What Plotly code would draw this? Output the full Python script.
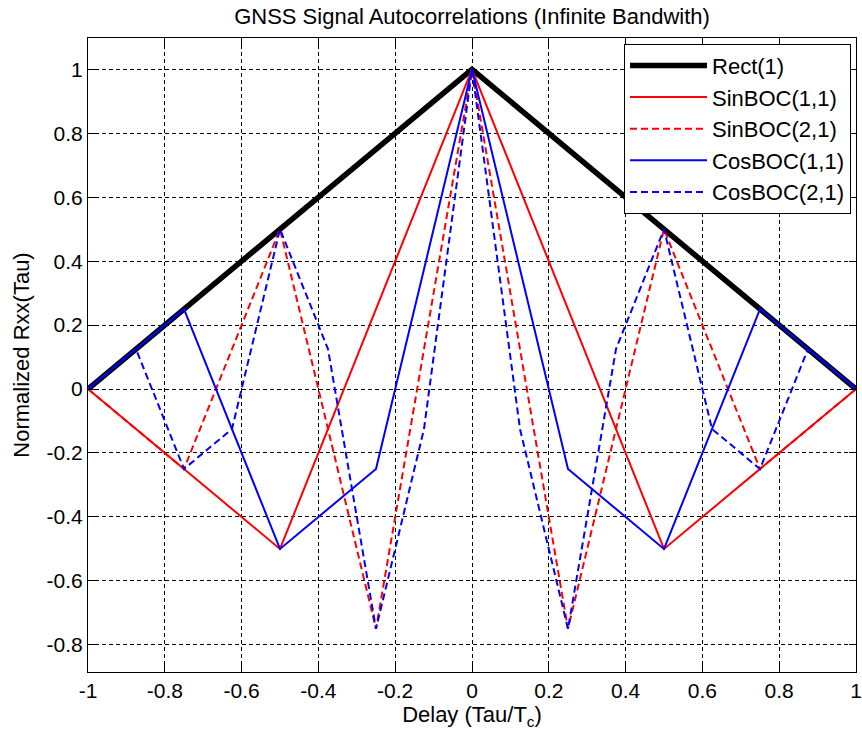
import plotly.graph_objects as go

# ---- data ----
tau_rect = [-1.0, 0.0, 1.0]
rect_1 = [0.0, 1.0, 0.0]

tau_half = [-1.0, -0.5, 0.0, 0.5, 1.0]
sinboc_11 = [0.0, -0.5, 1.0, -0.5, 0.0]

tau_quarter = [-1.0, -0.75, -0.5, -0.25, 0.0, 0.25, 0.5, 0.75, 1.0]
sinboc_21 = [0.0, -0.25, 0.5, -0.75, 1.0, -0.75, 0.5, -0.25, 0.0]
cosboc_11 = [0.0, 0.25, -0.5, -0.25, 1.0, -0.25, -0.5, 0.25, 0.0]

tau_eighth = [-1.0, -0.875, -0.75, -0.625, -0.5, -0.375, -0.25, -0.125, 0.0,
              0.125, 0.25, 0.375, 0.5, 0.625, 0.75, 0.875, 1.0]
cosboc_21 = [0.0, 0.125, -0.25, -0.125, 0.5, 0.125, -0.75, -0.125, 1.0,
             -0.125, -0.75, 0.125, 0.5, -0.125, -0.25, 0.125, 0.0]

x_tickvals = [-1, -0.8, -0.6, -0.4, -0.2, 0, 0.2, 0.4, 0.6, 0.8, 1]
x_ticktext = ["-1", "-0.8", "-0.6", "-0.4", "-0.2", "0", "0.2", "0.4", "0.6", "0.8", "1"]
y_tickvals = [-0.8, -0.6, -0.4, -0.2, 0, 0.2, 0.4, 0.6, 0.8, 1]
y_ticktext = ["-0.8", "-0.6", "-0.4", "-0.2", "0", "0.2", "0.4", "0.6", "0.8", "1"]

FONT = "Liberation Sans, Arial, Helvetica, sans-serif"

fig = go.Figure()
fig.add_trace(go.Scatter(x=tau_rect, y=rect_1, mode="lines", name="Rect(1)",
                         line=dict(color="black", width=5.5)))
fig.add_trace(go.Scatter(x=tau_half, y=sinboc_11, mode="lines", name="SinBOC(1,1)",
                         line=dict(color="#ff0000", width=2)))
fig.add_trace(go.Scatter(x=tau_quarter, y=sinboc_21, mode="lines", name="SinBOC(2,1)",
                         line=dict(color="#ff0000", width=2, dash="7px,4px")))
fig.add_trace(go.Scatter(x=tau_quarter, y=cosboc_11, mode="lines", name="CosBOC(1,1)",
                         line=dict(color="#0000ff", width=2)))
fig.add_trace(go.Scatter(x=tau_eighth, y=cosboc_21, mode="lines", name="CosBOC(2,1)",
                         line=dict(color="#0000ff", width=2, dash="7px,4px")))

axis_common = dict(
    showline=True, linecolor="black", linewidth=1.2, mirror="ticks",
    ticks="inside", ticklen=7, tickcolor="black", tickwidth=1,
    showgrid=True, gridcolor="black", gridwidth=1, griddash="4px,3px",
    zeroline=False, tickfont=dict(family=FONT, size=21, color="black"),
)

fig.update_xaxes(range=[-1, 1], tickvals=x_tickvals, ticktext=x_ticktext,
                 title=dict(text="Delay (Tau/T<sub>c</sub>)",
                            font=dict(family=FONT, size=22, color="black"), standoff=4),
                 **axis_common)
fig.update_yaxes(range=[-0.885, 1.098], tickvals=y_tickvals, ticktext=y_ticktext,
                 title=dict(text="Normalized Rxx(Tau)",
                            font=dict(family=FONT, size=22, color="black"), standoff=10),
                 **axis_common)

fig.update_layout(
    width=862, height=736,
    margin=dict(l=88, r=6, t=38, b=64, autoexpand=False),
    paper_bgcolor="white", plot_bgcolor="white",
    font=dict(family=FONT, color="black"),
    title=dict(text="GNSS Signal Autocorrelations (Infinite Bandwith)",
               font=dict(family=FONT, size=22, color="black"),
               x=0.5, xref="paper", xanchor="center",
               y=1 - 16 / 736, yref="container", yanchor="middle"),
    legend=dict(x=0.9935, xanchor="right", y=0.991, yanchor="top",
                bgcolor="white", bordercolor="black", borderwidth=1,
                font=dict(family=FONT, size=22, color="black"),
                itemwidth=77),
    showlegend=True,
)

fig.write_html("out.html")
